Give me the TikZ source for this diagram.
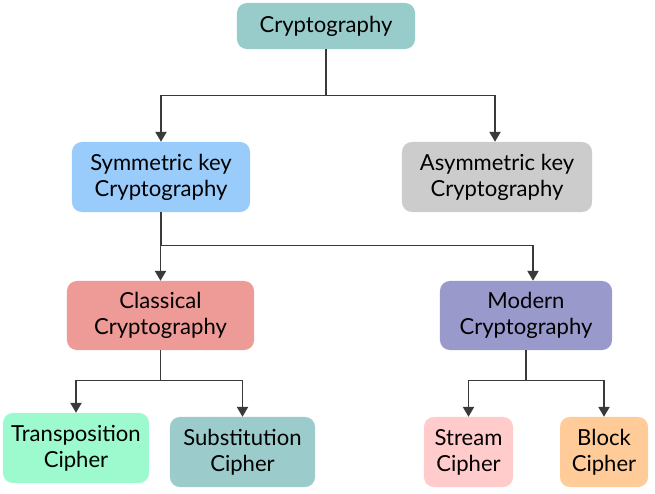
\documentclass[tikz,border=0pt]{standalone}
\usepackage{fontspec}
\setmainfont{Lato}
\usetikzlibrary{arrows.meta}

\definecolor{rootc}{HTML}{97CCCB}
\definecolor{symc}{HTML}{99CBFB}
\definecolor{asymc}{HTML}{CCCCCC}
\definecolor{classc}{HTML}{EE9A97}
\definecolor{modc}{HTML}{9999CC}
\definecolor{transc}{HTML}{9DFACE}
\definecolor{substc}{HTML}{9CCBCB}
\definecolor{streamc}{HTML}{FFCBCB}
\definecolor{blockc}{HTML}{FFCC99}
\definecolor{linec}{HTML}{3A3A3A}

\tikzset{
  box/.style={rounded corners=7pt, align=center, inner sep=2pt,
    font=\fontsize{15.7}{18.5}\selectfont, minimum height=1.75cm},
  link/.style={draw=linec, line width=0.8pt},
  arr/.style={link, -{Triangle[width=8pt,length=7pt]}}
}

\begin{document}
\begin{tikzpicture}[x=0.025cm, y=-0.025cm]
\useasboundingbox (0,0) rectangle (655,493);
% Top level
\node[box, fill=rootc, minimum width=4.45cm, minimum height=1.15cm] (crypto) at (326,26) {Cryptography};
% Second level
\node[box, fill=symc, minimum width=4.45cm] (sym) at (161,177) {Symmetric key\\Cryptography};
\node[box, fill=asymc, minimum width=4.75cm] (asym) at (497,177) {Asymmetric key\\Cryptography};
% Third level
\node[box, fill=classc, minimum width=4.675cm, minimum height=1.725cm] (classical) at (160.5,315.5) {Classical\\Cryptography};
\node[box, fill=modc, minimum width=4.3cm, minimum height=1.725cm] (modern) at (526,315.5) {Modern\\Cryptography};
% Leaves
\node[box, fill=transc, minimum width=3.65cm] (trans) at (76,448) {Transposition\\Cipher};
\node[box, fill=substc, minimum width=3.625cm] (subst) at (242.5,452) {Substitution\\Cipher};
\node[box, fill=streamc, minimum width=2.225cm] (stream) at (468.5,452) {Stream\\Cipher};
\node[box, fill=blockc, minimum width=2.2cm] (block) at (604,452) {Block\\Cipher};
% Connectors from the root
\draw[link] (crypto.south) -- ++(0,46) coordinate (j1);
\draw[arr] (j1) -| (sym.north);
\draw[arr] (j1) -| ([xshift=-0.05cm]asym.north);
% Connectors from symmetric key
\draw[link] (sym.south) -- ++(0,33) coordinate (j2);
\draw[arr] (j2) -| (classical.north);
\draw[arr] (j2) -| ([xshift=0.175cm]modern.north);
% Connectors from classical and modern
\draw[link] (classical.south) -- ++(0,30) coordinate (j3);
\draw[arr] (j3) -| (trans.north);
\draw[arr] (j3) -| (subst.north);
\draw[link] (modern.south) -- ++(0,30) coordinate (j4);
\draw[arr] (j4) -| (stream.north);
\draw[arr] (j4) -| (block.north);
\end{tikzpicture}
\end{document}
